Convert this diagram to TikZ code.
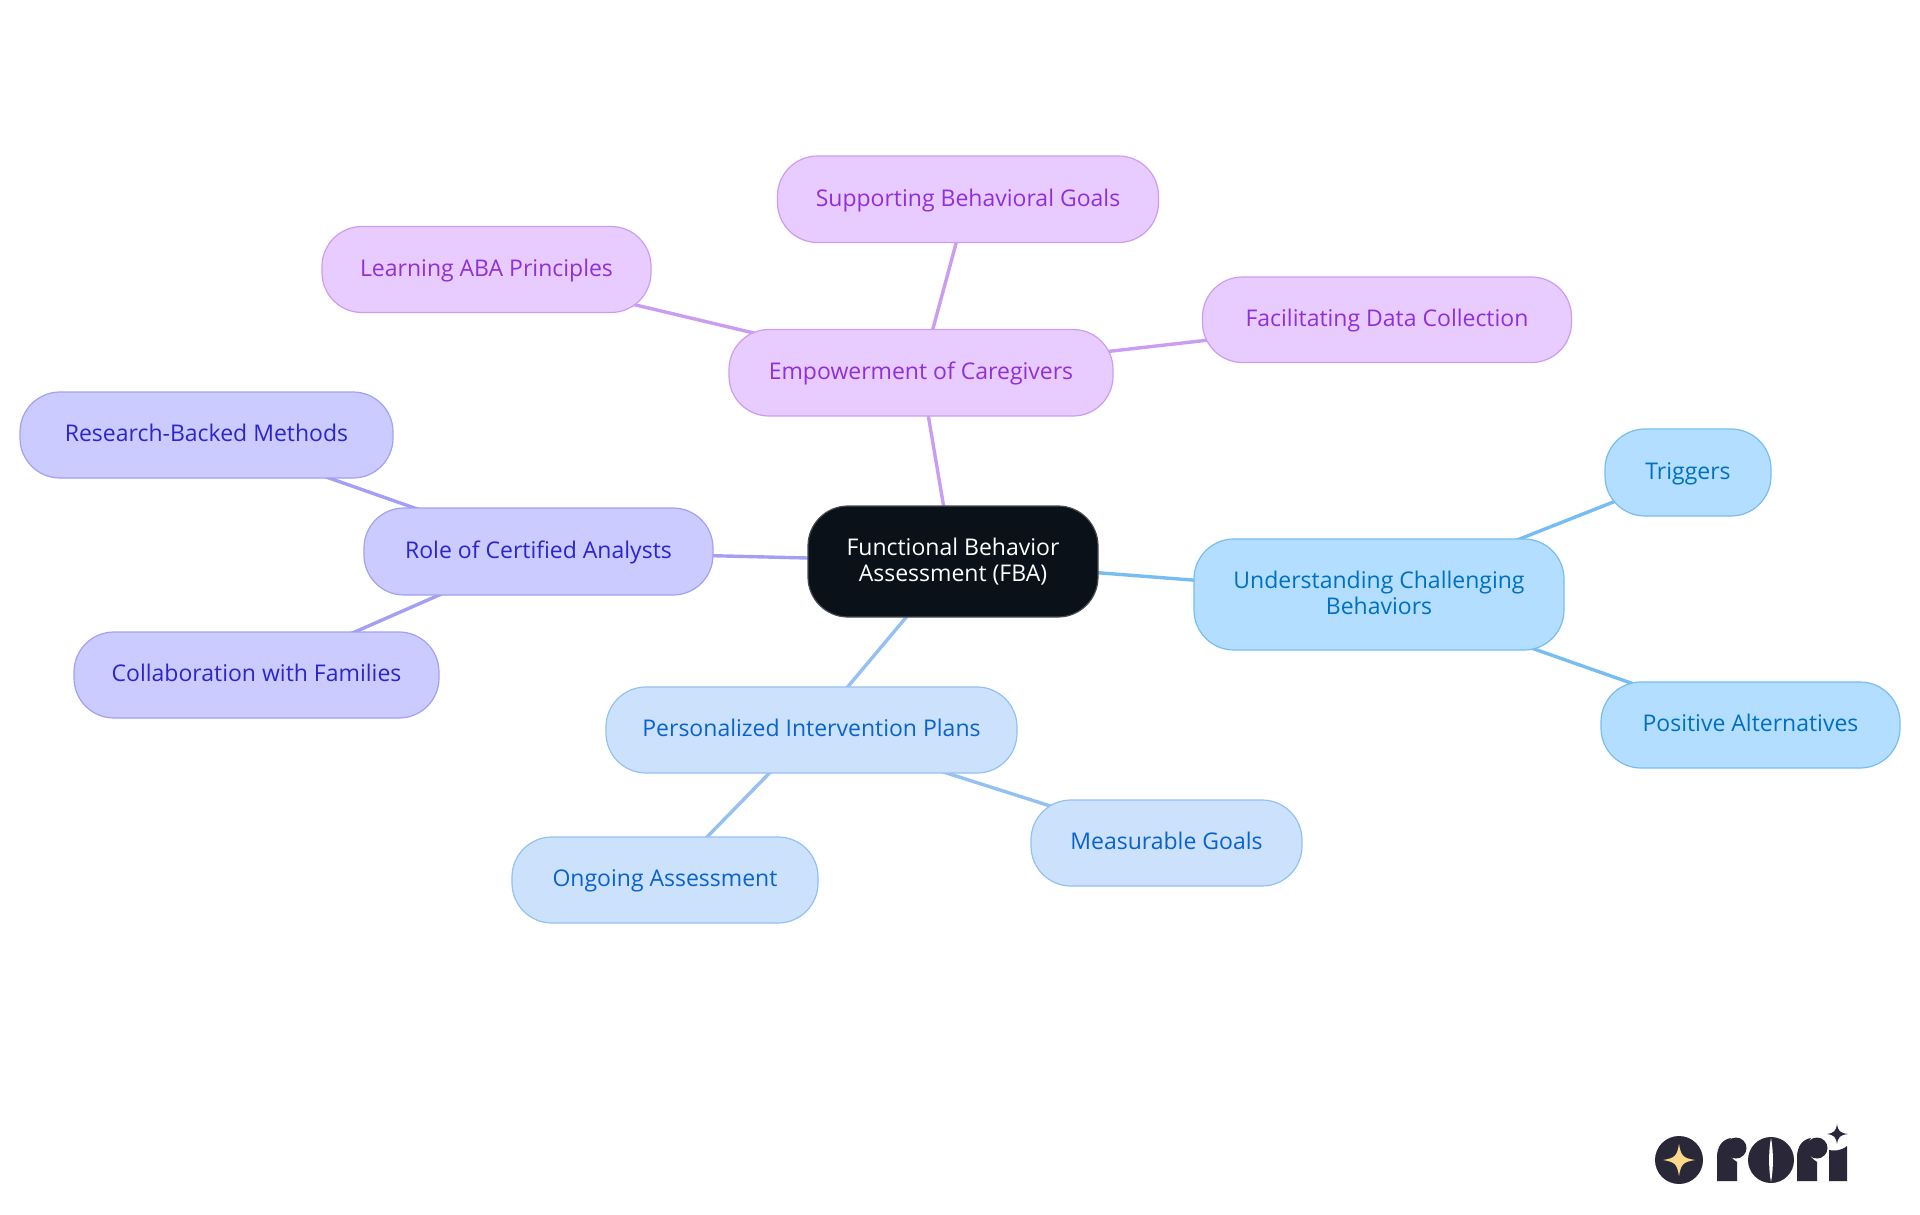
\documentclass[tikz,border=0pt]{standalone}
\usepackage{fontspec}
\setmainfont{Open Sans}
\usetikzlibrary{backgrounds}
\definecolor{cdark}{HTML}{0B1119}
\definecolor{fsky}{HTML}{B3DEFF}\definecolor{dsky}{HTML}{78BDF0}\definecolor{tsky}{HTML}{0070C0}
\definecolor{fblu}{HTML}{CCE2FC}\definecolor{dblu}{HTML}{94C0F2}\definecolor{tblu}{HTML}{0A62CC}
\definecolor{fvio}{HTML}{CBCBFF}\definecolor{dvio}{HTML}{A3A0F2}\definecolor{tvio}{HTML}{2A26CC}
\definecolor{fpur}{HTML}{E8CBFF}\definecolor{dpur}{HTML}{CB9DF0}\definecolor{tpur}{HTML}{9030D8}
\definecolor{logod}{HTML}{2A2838}\definecolor{logoy}{HTML}{FBD98C}
\newcommand{\tl}[1]{\raisebox{-1pt}[17pt][5.5pt]{#1}}
\tikzset{x=1pt,y=-1pt,
 mm/.style={rounded corners=40pt,inner sep=0pt,align=center,font=\fontsize{23}{26.3}\selectfont,line width=1.2pt},
 sky/.style={mm,fill=fsky,draw=dsky,text=tsky},
 blu/.style={mm,fill=fblu,draw=dblu,text=tblu},
 vio/.style={mm,fill=fvio,draw=dvio,text=tvio},
 pur/.style={mm,fill=fpur,draw=dpur,text=tpur},
 root/.style={mm,fill=cdark,draw=cdark!75!white,text=white},
 lnk/.style={line width=3.4pt}}
\newcommand{\mn}[7]{\node[#6,minimum width=#3pt-#1pt,minimum height=#5pt-#4pt] (#7) at ({(#1+#3)/2},{(#4+#5)/2})}
\begin{document}
\begin{tikzpicture}
\useasboundingbox (0,0) rectangle (1920,1215);
\mn{808}{}{1098}{506}{617}{root}{c} {\tl{Functional Behavior}\\\tl{Assessment (FBA)}};
\mn{1194}{}{1564}{539}{650}{sky}{u} {\tl{Understanding Challenging}\\\tl{Behaviors}};
\mn{1605}{}{1771}{429}{516}{sky}{t} {\tl{Triggers}};
\mn{1601}{}{1900}{682}{768}{sky}{pa} {\tl{Positive Alternatives}};
\mn{606}{}{1017}{687}{773}{blu}{p} {\tl{Personalized Intervention Plans}};
\mn{1031}{}{1302}{800}{886}{blu}{mg} {\tl{Measurable Goals}};
\mn{512}{}{818}{837}{923}{blu}{oa} {\tl{Ongoing Assessment}};
\mn{364}{}{713}{508}{595}{vio}{r} {\tl{Role of Certified Analysts}};
\mn{20}{}{393}{392}{478}{vio}{rb} {\tl{Research-Backed Methods}};
\mn{74}{}{439}{632}{718}{vio}{cf} {\tl{Collaboration with Families}};
\mn{729}{}{1113}{329.5}{416}{pur}{e} {\tl{Empowerment of Caregivers}};
\mn{322}{}{651}{226.5}{312.5}{pur}{la} {\tl{Learning ABA Principles}};
\mn{777.5}{}{1158.5}{156}{242.5}{pur}{sb} {\tl{Supporting Behavioral Goals}};
\mn{1202.5}{}{1571.5}{277}{362.5}{pur}{fd} {\tl{Facilitating Data Collection}};
\begin{scope}[on background layer]
\fill[white] (0,0) rectangle (1920,1215);
\draw[lnk,dsky] (c.center)--(u.center);
\draw[lnk,dsky] (u.center)--(t.center);
\draw[lnk,dsky] (u.center)--(pa.center);
\draw[lnk,dblu] (c.center)--(p.center);
\draw[lnk,dblu] (p.center)--(mg.center);
\draw[lnk,dblu] (p.center)--(oa.center);
\draw[lnk,dvio] (c.center)--(r.center);
\draw[lnk,dvio] (r.center)--(rb.center);
\draw[lnk,dvio] (r.center)--(cf.center);
\draw[lnk,dpur] (c.center)--(e.center);
\draw[lnk,dpur] (e.center)--(la.center);
\draw[lnk,dpur] (e.center)--(sb.center);
\draw[lnk,dpur] (e.center)--(fd.center);
\end{scope}
% logo
\fill[logod] (1679,1160) circle (24);
\fill[logoy] (1663,1160) .. controls (1675,1158) and (1677,1156) .. (1679,1144) .. controls (1681,1156) and (1683,1158) .. (1695,1160) .. controls (1683,1162) and (1681,1164) .. (1679,1176) .. controls (1677,1164) and (1675,1162) .. (1663,1160) -- cycle;
\fill[logod] (1717,1181) -- (1717,1157) .. controls (1717,1146) and (1723,1139) .. (1731,1138) .. controls (1724,1148) and (1728,1156) .. (1737,1162) -- (1737,1181) -- cycle;
\fill[logod] (1736,1148) circle (10.5);
\fill[logod] (1771,1160) circle (23);
\fill[white] (1771,1138) .. controls (1768.5,1150) and (1768.5,1170) .. (1771,1182) .. controls (1773.5,1170) and (1773.5,1150) .. (1771,1138) -- cycle;
\fill[logod] (1797,1181) -- (1797,1157) .. controls (1797,1146) and (1803,1139) .. (1811,1138) .. controls (1804,1148) and (1808,1156) .. (1817,1162) -- (1817,1181) -- cycle;
\fill[logod] (1817,1148) circle (10.5);
\fill[logod] (1829,1181) -- (1829,1150) .. controls (1834,1151) and (1841,1151) .. (1847,1146) -- (1847,1181) -- cycle;
\fill[logod] (1827,1134) .. controls (1834,1133) and (1836,1131) .. (1837,1124) .. controls (1838,1131) and (1840,1133) .. (1848,1134) .. controls (1840,1135) and (1838,1137) .. (1837,1144) .. controls (1836,1137) and (1834,1135) .. (1827,1134) -- cycle;
\end{tikzpicture}
\end{document}
